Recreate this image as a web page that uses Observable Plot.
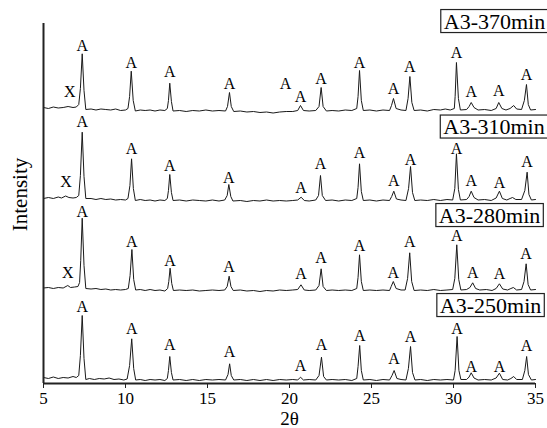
<!DOCTYPE html>
<html>
<head>
<meta charset="utf-8">
<script src="https://cdn.jsdelivr.net/npm/d3@7"></script>
<script src="https://cdn.jsdelivr.net/npm/@observablehq/plot@0.6"></script>
<style>
  html, body { margin: 0; padding: 0; background: #fff; }
</style>
</head>
<body>
<div id="chart"></div>
<script>
// Sample names (bottom to top) and vertical stacking offsets
const samples = ["A3-250min", "A3-280min", "A3-310min", "A3-370min"];
const offsets = [3, 93, 183, 273];

// Diffraction traces: [2θ, relative intensity]
const trace250 = [[5.0,3],[5.3,2],[5.6,3.5],[5.9,2],[6.2,3],[6.5,2.5],[6.8,4],[7.0,3],[7.15,5],[7.25,25],[7.36,65],[7.47,22],[7.58,1],[7.8,2],[8.1,1],[8.4,2],[8.7,1.5],[9.0,2.5],[9.3,1],[9.6,1.5],[9.9,0.5],[10.1,1.5],[10.25,15],[10.38,41.7],[10.5,12],[10.62,0.5],[10.9,1],[11.2,0],[11.5,1],[11.8,0.5],[12.1,1],[12.4,0],[12.55,2],[12.62,10],[12.7,24],[12.8,8],[12.9,0.5],[13.3,1],[13.7,0],[14.1,1],[14.5,0],[14.9,1],[15.3,0.5],[15.7,1],[16.1,0.5],[16.25,6],[16.35,16.7],[16.45,5],[16.6,0.5],[17.0,1],[17.4,0],[17.8,1],[18.2,0],[18.6,1],[19.0,0],[19.4,1],[19.8,0.5],[20.2,1],[20.5,0.5],[20.67,3.3],[20.85,0.5],[21.2,1],[21.6,0.5],[21.8,5],[21.95,23.3],[22.08,4],[22.25,0.5],[22.6,1],[23.0,0.5],[23.4,1],[23.8,0],[24.1,2],[24.18,14],[24.28,35],[24.38,10],[24.5,0.5],[24.9,1],[25.3,0],[25.7,1],[26.1,0.5],[26.25,5],[26.38,10],[26.55,2],[26.8,1],[27.1,0.5],[27.25,12],[27.38,34],[27.5,8],[27.65,0.5],[28.0,1],[28.4,0],[28.8,1],[29.2,0.5],[29.6,1],[30.0,0.5],[30.1,10],[30.22,44],[30.33,10],[30.45,1],[30.8,1],[30.95,3.5],[31.08,7.7],[31.25,2.5],[31.5,0.5],[31.9,1],[32.3,0.5],[32.6,2.5],[32.8,7.3],[33.0,1],[33.3,0.5],[33.5,2],[33.67,4],[33.85,1],[34.2,1],[34.35,10],[34.46,24],[34.57,6],[34.75,0.5],[35.0,1]];

const trace280 = [[5.0,2.5],[5.3,3],[5.6,2],[5.9,3],[6.2,2.5],[6.48,5],[6.65,3],[6.9,3.5],[7.1,4],[7.2,8],[7.27,30],[7.36,72.3],[7.47,25],[7.58,2],[7.9,1.5],[8.2,2],[8.5,1],[8.8,1.5],[9.1,0.5],[9.4,1],[9.7,0.5],[10.0,1],[10.17,2],[10.28,15],[10.39,41],[10.5,11],[10.62,0.5],[10.9,1],[11.2,0],[11.5,1],[11.8,0],[12.1,0.5],[12.4,-0.5],[12.57,2],[12.64,9],[12.72,22.3],[12.82,7],[12.92,0],[13.3,0.5],[13.7,0],[14.1,0.5],[14.5,-0.5],[14.9,0],[15.3,0.5],[15.7,0],[16.05,0.5],[16.2,4],[16.32,14.3],[16.43,4],[16.57,0],[17.0,0.5],[17.4,-0.5],[17.8,0],[18.2,-1],[18.6,0],[19.0,-0.5],[19.4,0.5],[19.8,0],[20.2,0.5],[20.5,1],[20.7,5.7],[20.9,0.5],[21.2,0],[21.6,0.5],[21.8,5],[21.93,21.7],[22.05,4],[22.25,0],[22.6,0.5],[23.0,0],[23.4,0.5],[23.8,0],[24.1,2],[24.18,13],[24.27,35.7],[24.38,9],[24.5,0],[24.9,0.5],[25.3,0],[25.7,0.5],[26.1,0],[26.2,4],[26.33,9],[26.5,2],[26.8,0.5],[27.05,0.5],[27.2,12],[27.33,37.7],[27.45,9],[27.6,0],[28.0,0.5],[28.4,0],[28.8,1],[29.2,0],[29.6,0.5],[29.95,1],[30.08,12],[30.2,45.7],[30.32,11],[30.45,0.5],[30.8,1],[31.0,3],[31.17,7.7],[31.35,2],[31.6,0.5],[32.0,1],[32.35,0],[32.6,2],[32.8,6.7],[33.0,1.5],[33.3,0.5],[33.5,2],[33.65,3],[33.85,0.5],[34.15,1],[34.3,9],[34.43,26.7],[34.55,6],[34.7,0.5],[35.0,1]];

const trace310 = [[5.0,2],[5.3,3],[5.6,2],[5.9,3.5],[6.1,2.5],[6.35,4.5],[6.55,3],[6.8,2.5],[7.0,3],[7.15,5],[7.25,25],[7.36,68.3],[7.47,24],[7.58,2],[7.9,2],[8.2,1],[8.5,2],[8.8,1],[9.1,1.5],[9.4,0.5],[9.7,1],[10.0,0.5],[10.15,2],[10.27,15],[10.37,41.7],[10.48,12],[10.6,0],[10.9,1],[11.2,0],[11.5,0.5],[11.8,-0.5],[12.1,0.5],[12.4,0],[12.55,2],[12.62,10],[12.7,26],[12.8,8],[12.9,0],[13.3,0.5],[13.7,-0.5],[14.1,0.5],[14.5,0],[14.9,-0.5],[15.3,0.5],[15.7,-0.5],[16.05,0.5],[16.2,5],[16.3,16],[16.42,4],[16.55,-0.5],[17.0,0],[17.4,-1],[17.8,0],[18.2,-0.5],[18.6,0.5],[19.0,-0.5],[19.4,0],[19.8,-0.5],[20.2,0],[20.5,0.5],[20.71,3.3],[20.9,0],[21.2,-0.5],[21.6,0.5],[21.77,5],[21.89,25],[22.0,5],[22.2,0],[22.6,0.5],[23.0,-0.5],[23.4,0.5],[23.8,0],[24.1,2],[24.18,13],[24.27,36.7],[24.38,9],[24.5,0],[24.9,0.5],[25.3,-0.5],[25.7,0.5],[26.1,0],[26.23,4],[26.36,9.3],[26.52,1.5],[26.8,0.5],[27.1,0],[27.26,12],[27.38,34],[27.5,8],[27.64,0],[28.0,0.5],[28.4,0],[28.8,1],[29.2,0],[29.6,1],[29.95,0.5],[30.08,12],[30.18,46.7],[30.3,11],[30.42,0.5],[30.8,1],[30.95,4],[31.08,9.3],[31.25,3],[31.5,0.5],[31.9,1],[32.3,0],[32.6,2.5],[32.8,9.3],[32.98,2],[33.25,0.5],[33.45,2],[33.6,3],[33.8,1],[34.15,1],[34.35,10],[34.49,28.3],[34.6,6],[34.75,0.5],[35.0,1]];

const trace370 = [[5.0,3],[5.3,2],[5.6,3.5],[5.9,2.5],[6.2,3],[6.5,4],[6.8,3],[7.0,3.5],[7.15,6],[7.25,22],[7.36,56.7],[7.47,20],[7.58,1],[7.9,1.5],[8.2,0.5],[8.5,1.5],[8.8,1],[9.1,0.5],[9.4,1.5],[9.7,0],[10.0,0.5],[10.15,2],[10.25,14],[10.35,39.3],[10.47,10],[10.6,-0.5],[10.9,0.5],[11.2,0],[11.5,0.5],[11.8,-0.5],[12.1,0.5],[12.4,0],[12.55,2],[12.62,10],[12.7,27.3],[12.8,9],[12.9,-0.5],[13.3,0],[13.7,-1],[14.1,0],[14.5,-0.5],[14.9,0.5],[15.3,-0.5],[15.7,0],[16.1,-0.5],[16.22,4],[16.34,18],[16.45,4],[16.6,-1],[17.0,-0.5],[17.4,-1.5],[17.8,-1],[18.2,-2],[18.6,-1.5],[19.0,-2.5],[19.4,-1.5],[19.8,-1],[20.2,-1],[20.5,0],[20.67,5],[20.85,0],[21.2,-0.5],[21.6,0],[21.8,4],[21.93,23],[22.05,4],[22.25,-0.5],[22.6,0],[23.0,-0.5],[23.4,0.5],[23.8,0],[24.1,2],[24.18,14],[24.27,40],[24.38,10],[24.5,0],[24.9,0.5],[25.3,-0.5],[25.7,0.5],[26.1,0],[26.22,5],[26.34,12],[26.5,2],[26.8,0.5],[27.1,0],[27.23,12],[27.34,34],[27.46,8],[27.6,0],[28.0,0.5],[28.4,-0.5],[28.8,1],[29.2,0.5],[29.5,1.5],[29.8,0.5],[30.05,2],[30.1,14],[30.18,48],[30.3,12],[30.42,0.5],[30.8,1],[30.95,4],[31.08,8],[31.25,3],[31.5,0.5],[31.9,1],[32.3,0],[32.6,2],[32.76,8],[32.95,2],[33.2,0.5],[33.45,2],[33.67,5],[33.85,1.5],[34.15,1],[34.32,10],[34.45,26],[34.56,6],[34.7,0.5],[35.0,1]];

// Phase labels "A": 2θ position and label height (relative intensity)
const peakX250 = [7.36, 10.38, 12.7, 16.35, 20.67, 21.95, 24.28, 26.38, 27.38, 30.22, 31.08, 32.8, 34.46];
const peakY250 = [74, 51.7, 36, 28.3, 15, 35.7, 45, 21.7, 43.3, 51.7, 14, 14, 35];
const peakX280 = [7.36, 10.39, 12.72, 16.32, 20.7, 21.93, 24.27, 26.33, 27.33, 30.2, 31.17, 32.8, 34.43];
const peakY280 = [79, 48.3, 30, 23.3, 16.7, 32.3, 45, 17.7, 49, 54.3, 17.7, 16.7, 36.7];
const peakX310 = [7.36, 10.37, 12.7, 16.3, 20.71, 21.89, 24.27, 26.36, 27.38, 30.18, 31.08, 32.8, 34.49];
const peakY310 = [78.3, 52, 35, 23, 13, 37, 48, 20, 41, 52, 20, 18, 39];
const peakX370 = [7.36, 10.35, 12.7, 16.34, 19.76, 20.67, 21.93, 24.27, 26.34, 27.34, 30.18, 31.08, 32.76, 34.45];
const peakY370 = [65, 47.7, 38.3, 27, 27, 13.3, 31.7, 47.3, 21.7, 43.3, 57.3, 18.3, 20, 36];
// "X" phase labels (sample index, 2θ, height)
const xPhaseSample = [1, 2, 3];
const xPhaseX = [6.48, 6.38, 6.60];
const xPhaseY = [17.7, 18.3, 19];
// Sample name labels (2θ, relative intensity)
const nameX = [32.26, 32.2, 32.47, 32.5];
const nameY = [75, 75, 73.5, 89];

const xTicks = [5, 10, 15, 20, 25, 30, 35];

const traces = [trace250, trace280, trace310, trace370];
const peakXs = [peakX250, peakX280, peakX310, peakX370];
const peakYs = [peakY250, peakY280, peakY310, peakY370];

const lineData = traces.flatMap((t, i) => t.map(([x, y]) => ({sample: samples[i], x, y: y + offsets[i]})));
const aLabels = peakXs.flatMap((xs, i) => xs.map((x, j) => ({x, y: peakYs[i][j] + offsets[i]})));
const xLabels = xPhaseSample.map((s, j) => ({x: xPhaseX[j], y: xPhaseY[j] + offsets[s]}));
const names = samples.map((s, i) => ({name: s, x: nameX[i], y: nameY[i] + offsets[i]}));

const font = "'Liberation Serif', 'Times New Roman', serif";

const chart = Plot.plot({
  width: 547,
  height: 428,
  marginLeft: 43,
  marginRight: 12,
  marginTop: 23,
  marginBottom: 45,
  style: {fontFamily: font, background: "#fff", color: "#000"},
  x: {domain: [5, 35]},
  y: {domain: [0, 360], axis: null},
  marks: [
    Plot.axisX({ticks: xTicks, tickSize: 5, tickPadding: 3, tickFormat: d => String(d), fontSize: 17, label: null, stroke: "#222"}),
    Plot.line(lineData, {x: "x", y: "y", z: "sample", stroke: "#1a1a1a", strokeWidth: 1}),
    Plot.text(aLabels, {x: "x", y: "y", text: () => "A", fontSize: 16, fill: "#000"}),
    Plot.text(xLabels, {x: "x", y: "y", text: () => "X", fontSize: 16, fill: "#000"}),
    Plot.text(names, {x: "x", y: "y", text: "name", fontSize: 22, fill: "#000"}),
    Plot.ruleX([5], {stroke: "#222", strokeWidth: 2}),
    Plot.ruleY([0], {stroke: "#222", strokeWidth: 2}),
    Plot.text(["2θ"], {frameAnchor: "bottom", lineAnchor: "middle", textAnchor: "middle", dy: 35, fontSize: 19, fill: "#000"}),
    Plot.text(["Intensity"], {frameAnchor: "left", textAnchor: "middle", lineAnchor: "middle", rotate: -90, dx: -23, dy: -9, fontSize: 21, fill: "#000"})
  ]
});

document.getElementById("chart").appendChild(chart);

// Draw a box around each sample-name label, sized from the text itself
chart.querySelectorAll("text").forEach(t => {
  if (samples.includes(t.textContent)) {
    const b = t.getBBox();
    const r = document.createElementNS("http://www.w3.org/2000/svg", "rect");
    r.setAttribute("x", b.x - 3);
    r.setAttribute("y", b.y + 1);
    r.setAttribute("width", b.width + 6);
    r.setAttribute("height", b.height - 2);
    r.setAttribute("fill", "#fff");
    r.setAttribute("stroke", "#222");
    r.setAttribute("stroke-width", 1.2);
    if (t.getAttribute("transform")) r.setAttribute("transform", t.getAttribute("transform"));
    t.parentNode.insertBefore(r, t);
  }
});
</script>
</body>
</html>
